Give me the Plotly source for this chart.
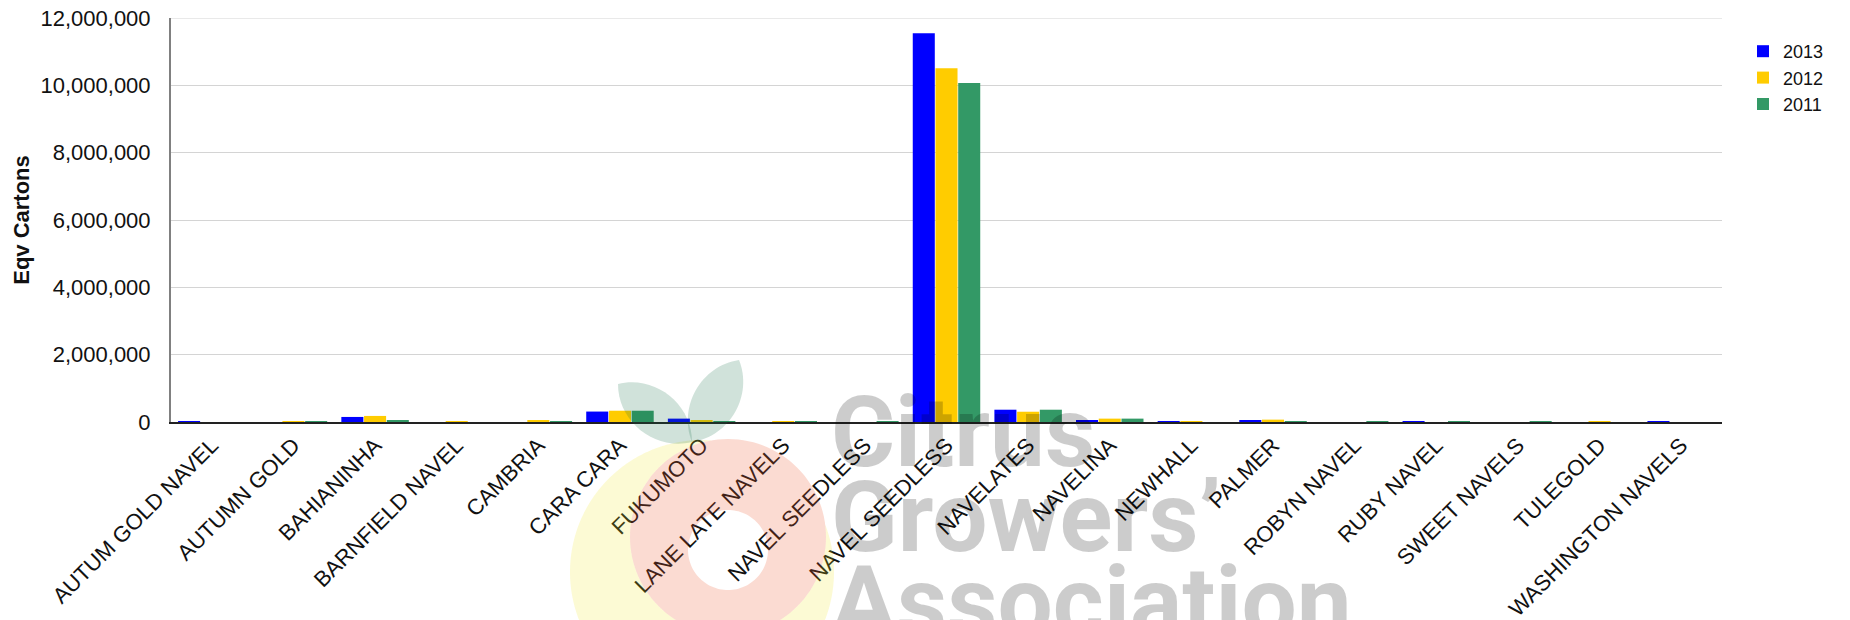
import numpy as np
import plotly.graph_objects as go

# ---------------- data ----------------
categories = ["AUTUM GOLD NAVEL", "AUTUMN GOLD", "BAHIANINHA", "BARNFIELD NAVEL", "CAMBRIA",
              "CARA CARA", "FUKUMOTO", "LANE LATE NAVELS", "NAVEL SEEDLESS", "NAVEL SEEDLESS",
              "NAVELATES", "NAVELINA", "NEWHALL", "PALMER", "ROBYN NAVEL", "RUBY NAVEL",
              "SWEET NAVELS", "TULEGOLD", "WASHINGTON NAVELS"]
series_names = ["2013", "2012", "2011"]
v2013 = [20000, 0, 150000, 0, 0, 310000, 100000, 0, 0, 11550000, 365000, 40000,
         20000, 40000, 0, 20000, 0, 0, 20000]
v2012 = [0, 20000, 180000, 20000, 35000, 335000, 40000, 20000, 0, 10510000, 305000, 100000,
         20000, 70000, 0, 0, 0, 20000, 0]
v2011 = [0, 20000, 35000, 0, 20000, 335000, 15000, 20000, 20000, 10070000, 365000, 100000,
         0, 20000, 20000, 20000, 20000, 0, 0]
y_ticks = [0, 2000000, 4000000, 6000000, 8000000, 10000000, 12000000]

colors = ["#0000FF", "#FFCC00", "#339966"]
FONT = "Arial, Liberation Sans, sans-serif"

OFF = 8                      # page body margin in the browser
W, H = 1850 - OFF, 620 - OFF
# plot area in screen pixels
X0, X1, YB, YT = 171, 1722, 422, 18


def px(x):
    return (x - X0) / (X1 - X0)


def py(y):
    return (YB - y) / (YB - YT)


idx = list(range(len(categories)))
fig = go.Figure()
for name, vals, col in zip(series_names, [v2013, v2012, v2011], colors):
    fig.add_trace(go.Bar(x=idx, y=vals, name=name, marker=dict(color=col, line=dict(width=0))))

# ---------------- watermark (decorative logo) ----------------
def to_path(points, close=True):
    s = "M" + " L".join(f"{px(x):.5f},{py(y):.5f}" for x, y in points)
    return s + (" Z" if close else "")


def circle_pts(cx, cy, r, n=120):
    t = np.linspace(0, 2 * np.pi, n, endpoint=False)
    return list(zip(cx + r * np.cos(t), cy + r * np.sin(t)))


def crescent(c1, r1, c2, r2, n=720):
    # disc1 minus disc2
    t = np.linspace(0, 2 * np.pi, n, endpoint=False)
    p1 = np.stack([c1[0] + r1 * np.cos(t), c1[1] + r1 * np.sin(t)], 1)
    out = np.hypot(p1[:, 0] - c2[0], p1[:, 1] - c2[1]) > r2
    k = np.argmax((~np.roll(out, 1)) & out)
    p1r, outr = np.roll(p1, -k, 0), np.roll(out, -k)
    arc1 = p1r[outr]
    p2 = np.stack([c2[0] + r2 * np.cos(t), c2[1] + r2 * np.sin(t)], 1)
    ins = np.hypot(p2[:, 0] - c1[0], p2[:, 1] - c1[1]) < r1
    k2 = np.argmax((~np.roll(ins, 1)) & ins)
    p2r, insr = np.roll(p2, -k2, 0), np.roll(ins, -k2)
    arc2 = p2r[insr][::-1]
    return [tuple(p) for p in arc1] + [tuple(p) for p in arc2]


def leaf(a, b, w):
    a, b = np.array(a, float), np.array(b, float)
    d = b - a
    nrm = np.array([-d[1], d[0]]) / np.hypot(*d)
    c1 = a + 0.25 * d + nrm * w
    c2 = a + 0.75 * d + nrm * w
    c3 = a + 0.75 * d - nrm * w
    c4 = a + 0.25 * d - nrm * w
    f = lambda p: f"{px(p[0]):.5f},{py(p[1]):.5f}"
    return f"M{f(a)} C{f(c1)} {f(c2)} {f(b)} C{f(c3)} {f(c4)} {f(a)} Z"


shapes = []
shapes.append(dict(type="path", xref="paper", yref="paper", layer="above",
                   path=to_path(crescent((702, 572), 132, (728, 537), 98)),
                   fillcolor="rgba(240,230,40,0.2)", line=dict(width=0)))
ring = to_path(circle_pts(728, 537, 98)) + " " + to_path(circle_pts(728, 550, 40))
shapes.append(dict(type="path", xref="paper", yref="paper", layer="above", path=ring,
                   fillrule="evenodd", fillcolor="rgba(235,90,50,0.22)", line=dict(width=0)))
shapes.append(dict(type="path", xref="paper", yref="paper", layer="above",
                   path=leaf((692, 442), (618, 384), 30),
                   fillcolor="rgba(20,110,70,0.2)", line=dict(width=0)))
shapes.append(dict(type="path", xref="paper", yref="paper", layer="above",
                   path=leaf((692, 442), (739, 360), 30),
                   fillcolor="rgba(20,110,70,0.2)", line=dict(width=0)))
# top gridline (at the upper range edge)
shapes.append(dict(type="line", xref="paper", yref="y", x0=0, x1=1, y0=y_ticks[-1],
                   y1=y_ticks[-1], layer="below", line=dict(color="#d4d4d4", width=1)))

WM_FONT = "Roboto, Arial, sans-serif"
WM_SIZE = 98
annotations = []
for txt, base in [("Citrus", 459), ("Growers\u2019", 544), ("Association", 629)]:
    annotations.append(dict(text=txt, xref="paper", yref="paper", x=px(829),
                            y=py(base + 0.34 * WM_SIZE),
                            xanchor="left", yanchor="bottom", showarrow=False,
                            font=dict(family=WM_FONT, size=WM_SIZE, color="rgba(0,0,0,0.2)",
                                      weight="bold")))

fig.update_layout(
    width=W, height=H,
    margin=dict(l=X0 - OFF, r=W - (X1 - OFF), t=YT - OFF, b=H - (YB - OFF), pad=0,
                autoexpand=False),
    plot_bgcolor="white", paper_bgcolor="white",
    barmode="group", bargap=0.165, bargroupgap=0.03,
    font=dict(family=FONT, size=22, color="#111"),
    showlegend=True,
    legend=dict(x=px(1743), xanchor="left", y=py(33), yanchor="top",
                font=dict(family=FONT, size=18, color="#111"),
                bgcolor="rgba(0,0,0,0)", tracegroupgap=0, itemclick=False),
    xaxis=dict(range=[-0.5, len(categories) - 0.5], tickmode="array", tickvals=idx,
               ticktext=categories, tickangle=-45, showgrid=False, zeroline=False,
               showline=True, linecolor="#222", linewidth=1.5, ticks="", automargin=False,
               ticklabeloverflow="allow",
               tickfont=dict(family=FONT, size=22, color="#111")),
    yaxis=dict(range=[0, 12000000], tickmode="array", tickvals=y_ticks,
               tickformat=",d", showgrid=True, gridcolor="#d4d4d4", gridwidth=1,
               zeroline=False, showline=True, linecolor="#808080", linewidth=2,
               ticks="", ticklabelstandoff=14, automargin=False,
               ticklabeloverflow="allow",
               tickfont=dict(family=FONT, size=22, color="#111"),
               title=dict(text="Eqv Cartons", standoff=5,
                          font=dict(family=FONT, size=22, color="#111", weight="bold"))),
    shapes=shapes,
    annotations=annotations,
)

fig.write_html("out.html")
